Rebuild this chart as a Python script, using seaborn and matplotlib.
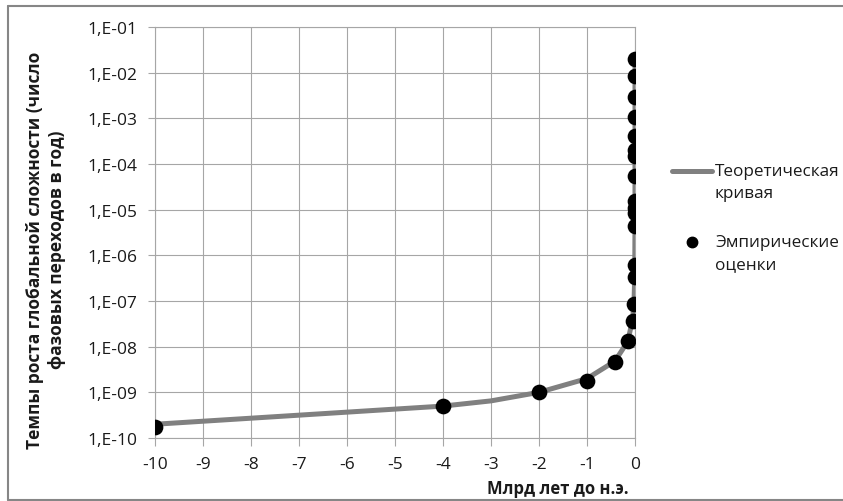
import matplotlib
matplotlib.use("Agg")
import matplotlib.pyplot as plt
import seaborn as sns
import pandas as pd
from matplotlib.lines import Line2D

# Empirical estimates: time (billion years BCE) and growth rate (transitions per year)
emp_x = [-10, -4, -2, -1, -0.42, -0.15, -0.05, -0.02, -0.006, -0.003,
         -0.0005, -0.00025, -0.00018, -0.00013, -4e-5, -1.3e-5, -1e-5,
         -5e-6, -2e-6, -7e-7, -2.5e-7, -1e-7]
emp_y = [1.74e-10, 5.0e-10, 1.02e-9, 1.77e-9, 4.6e-9, 1.33e-8, 3.65e-8,
         8.6e-8, 3.35e-7, 6.1e-7, 4.4e-6, 8.4e-6, 1.09e-5, 1.55e-5, 5.5e-5,
         1.5e-4, 2.0e-4, 4.1e-4, 1.07e-3, 2.9e-3, 8.5e-3, 2.0e-2]

# Theoretical curve
theory_x = [-10, -4, -3, -2, -1, -0.42, -0.15, -0.05, -0.02, -0.006,
            -0.0005, -1e-5, -1e-7]
theory_y = [2.0e-10, 5.0e-10, 6.5e-10, 1.0e-9, 2.0e-9, 4.8e-9, 1.3e-8,
            4.0e-8, 1.0e-7, 3.3e-7, 4.0e-6, 2.0e-4, 2.0e-2]

xtick_values = [-10, -9, -8, -7, -6, -5, -4, -3, -2, -1, 0]
xtick_labels = ["-10", "-9", "-8", "-7", "-6", "-5", "-4", "-3", "-2", "-1", "0"]
ytick_values = [1e-10, 1e-9, 1e-8, 1e-7, 1e-6, 1e-5, 1e-4, 1e-3, 1e-2, 1e-1]
ytick_labels = ["1,E-10", "1,E-09", "1,E-08", "1,E-07", "1,E-06",
                "1,E-05", "1,E-04", "1,E-03", "1,E-02", "1,E-01"]

theory_label = ["Теоретическая", "кривая"]
emp_label = ["Эмпирические", "оценки"]
x_title = "Млрд лет до н.э."
y_title = "Темпы роста глобальной сложности (число\nфазовых переходов в год)"

sns.set_theme(style="white")
plt.rcParams["font.family"] = ["Open Sans", "DejaVu Sans"]

W, H = 843, 502
fig = plt.figure(figsize=(W / 100, H / 100), dpi=100)
ax = fig.add_axes([155 / W, 1 - 439 / H, (635 - 155) / W, (439 - 28) / H])

theory = pd.DataFrame({"x": theory_x, "y": theory_y})
emp = pd.DataFrame({"x": emp_x, "y": emp_y})

grid_c = "#a6a6a6"
curve_c = "#808080"
text_c = "#1a1a1a"
sns.lineplot(data=theory, x="x", y="y", ax=ax, color=curve_c,
             linewidth=3.6, sort=False, estimator=None, zorder=3)
sns.scatterplot(data=emp, x="x", y="y", ax=ax, color="black", s=128,
                edgecolor="black", linewidth=0, zorder=4)

ax.set_yscale("log")
ax.set_xlim(-10, 0)
ax.set_ylim(1e-10, 1e-1)
ax.set_xticks(xtick_values)
ax.set_xticklabels(xtick_labels)
ax.set_yticks(ytick_values)
ax.set_yticklabels(ytick_labels)
ax.yaxis.set_minor_locator(matplotlib.ticker.NullLocator())
ax.grid(True, color=grid_c, linewidth=0.8)
ax.set_axisbelow(True)
for side in ["left", "right", "top", "bottom"]:
    ax.spines[side].set_color(grid_c)
    ax.spines[side].set_linewidth(0.8)
ax.tick_params(axis="x", direction="out", length=6, width=0.8, color=grid_c,
               pad=7, labelsize=12.5, labelcolor=text_c, bottom=True)
ax.tick_params(axis="y", direction="out", length=5, width=0.8, color=grid_c,
               pad=8, labelsize=12.5, labelcolor=text_c, left=True)
ax.set_xlabel("")
ax.set_ylabel("")

fig.text(558 / W, 1 - 489 / H, x_title, ha="center", va="center",
         fontsize=12, fontweight="bold", color=text_c)
fig.text(46 / W, 1 - 250 / H, y_title, ha="center", va="center",
         rotation=90, fontsize=12.5, fontweight="bold", color=text_c,
         linespacing=1.35, multialignment="center")

# Legend: handle beside the first line of each two-line label
fig.add_artist(Line2D([672 / W, 712 / W], [1 - 172 / H, 1 - 172 / H],
                      transform=fig.transFigure, color=curve_c, linewidth=3.6))
fig.add_artist(Line2D([692 / W], [1 - 243 / H], transform=fig.transFigure,
                      color="black", marker="o", markersize=7.5,
                      linestyle="none"))
for lines, y0 in [(theory_label, 172), (emp_label, 243)]:
    for i, line in enumerate(lines):
        fig.text(715 / W, 1 - (y0 + 22 * i) / H, line, ha="left",
                 va="center", fontsize=12.3, color=text_c)

# Chart area border
border = dict(transform=fig.transFigure, color="#868686", linewidth=1.5)
fig.add_artist(Line2D([7.5 / W, 7.5 / W], [1 - 500.5 / H, 1 - 6.5 / H], **border))
fig.add_artist(Line2D([7.5 / W, 1.0], [1 - 6.5 / H, 1 - 6.5 / H], **border))
fig.add_artist(Line2D([7.5 / W, 1.0], [1 - 500.5 / H, 1 - 500.5 / H], **border))

fig.savefig("out.png", dpi=100, facecolor="white")
